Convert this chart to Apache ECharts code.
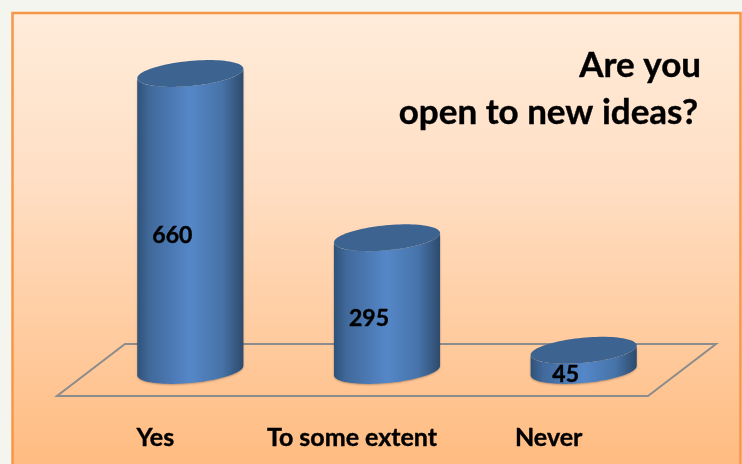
<!DOCTYPE html>
<html>
<head>
<meta charset="utf-8">
<style>html,body{margin:0;padding:0;background:#f4f5ef;}#c{width:742px;height:464px;}</style>
<script src="https://cdn.jsdelivr.net/npm/echarts@6/dist/echarts.min.js"></script>
</head>
<body>
<div id="c"></div>
<script>
const categories = ["Yes", "To some extent", "Never"];
const values = [660, 295, 45];
const titleLines = ["Are you", "open to new ideas?"];

const FONT = 'Lato, "Open Sans", sans-serif';
const chart = echarts.init(document.getElementById('c'));
const A = 53.3, B = 12.5, TH = -5.4 * Math.PI / 180;
function ept(cx, cy, t) {
  return [
    cx + A * Math.cos(t) * Math.cos(TH) - B * Math.sin(t) * Math.sin(TH),
    cy + A * Math.cos(t) * Math.sin(TH) + B * Math.sin(t) * Math.cos(TH)
  ];
}
const T0 = Math.atan2(-B * Math.sin(TH), A * Math.cos(TH));
function renderCyl(params, api) {
  const top = api.coord([api.value(0), api.value(1)]);
  const base = api.coord([api.value(0), 0]);
  const cx = top[0];
  const body = [];
  const N = 48;
  for (let i = 0; i <= N; i++) body.push(ept(cx, top[1], T0 + Math.PI - Math.PI * i / N));
  for (let i = 0; i <= N; i++) body.push(ept(cx, base[1], T0 + Math.PI * i / N));
  const cap = [];
  for (let i = 0; i < 96; i++) cap.push(ept(cx, top[1], i / 96 * Math.PI * 2));
  const fill = new echarts.graphic.LinearGradient(0, 0, 1, 0, [
    { offset: 0, color: '#2f5279' },
    { offset: 0.12, color: '#41699b' },
    { offset: 0.5, color: '#5587c8' },
    { offset: 0.8, color: '#4673a8' },
    { offset: 1, color: '#2e4a6c' }
  ]);
  return {
    type: 'group',
    children: [
      { type: 'polygon', shape: { points: body }, style: { fill: fill, shadowBlur: 2, shadowColor: 'rgba(0,0,0,0.25)', shadowOffsetY: 1 } },
      { type: 'polygon', shape: { points: cap }, style: { fill: '#3d6491' } },
      { type: 'text', style: {
          x: cx - 18, y: (top[1] + base[1]) / 2 + 14,
          text: String(api.value(1)), align: 'center', verticalAlign: 'middle',
          font: 'bold 23px ' + FONT, fill: '#000', stroke: '#000', lineWidth: 0.4 } }
    ]
  };
}
chart.setOption({
  animation: false,
  backgroundColor: '#f4f5ef',
  grid: { left: 92, width: 590, top: 73.5, height: 297 },
  xAxis: {
    type: 'category', data: categories,
    axisLine: { show: false }, axisTick: { show: false },
    axisLabel: { margin: 55, color: '#000', fontFamily: FONT, fontWeight: 'bold', fontSize: 25, padding: [0, 70, 0, 0], interval: 0, textBorderColor: '#000', textBorderWidth: 0.4 }
  },
  yAxis: { type: 'value', min: 0, max: 660, show: false },
  graphic: [
    { type: 'rect', z: -10, shape: { x: 12.5, y: 13, width: 728, height: 470 },
      style: { stroke: '#f79646', lineWidth: 2.5,
        fill: new echarts.graphic.LinearGradient(0, 0, 0, 1, [
          { offset: 0, color: '#ffecda' },
          { offset: 0.35, color: '#ffdfc5' },
          { offset: 1, color: '#ffb97c' }
        ]) } },
    { type: 'polygon', z: -9, shape: { points: [[57, 396], [648, 396], [716, 344], [125, 344]] },
      style: { fill: 'none', stroke: '#8c8c8c', lineWidth: 2 } },
    { type: 'text', z: 5, style: { x: 701, y: 66, text: titleLines[0], align: 'right', verticalAlign: 'middle', font: 'bold 35px ' + FONT, fill: '#000', stroke: '#000', lineWidth: 0.4 } },
    { type: 'text', z: 5, style: { x: 698, y: 113, text: titleLines[1], align: 'right', verticalAlign: 'middle', font: 'bold 35px ' + FONT, fill: '#000', stroke: '#000', lineWidth: 0.4 } }
  ],
  series: [{
    type: 'custom', clip: false, renderItem: renderCyl,
    encode: { x: 0, y: 1 },
    data: categories.map((c, i) => [i, values[i]])
  }]
});
</script>
</body>
</html>
